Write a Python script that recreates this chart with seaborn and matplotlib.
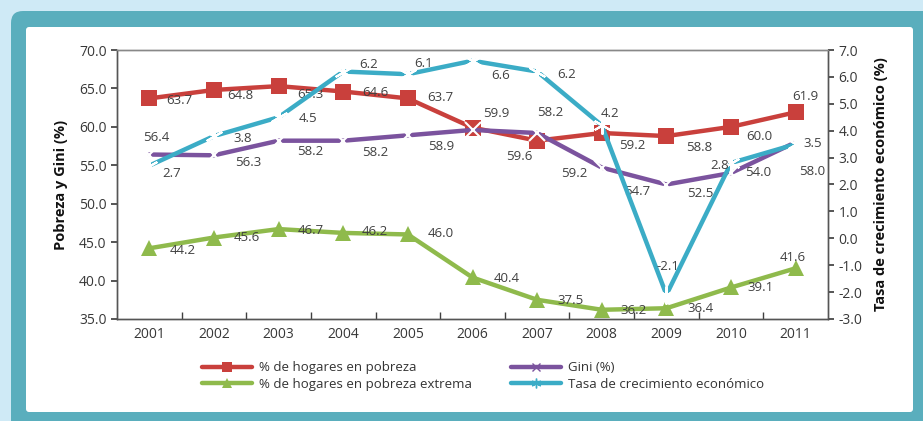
import matplotlib
matplotlib.use("Agg")
import matplotlib.pyplot as plt
from matplotlib.patches import FancyBboxPatch
from matplotlib.transforms import IdentityTransform
from matplotlib.lines import Line2D
import pandas as pd
import seaborn as sns

years = [2001, 2002, 2003, 2004, 2005, 2006, 2007, 2008, 2009, 2010, 2011]
pobreza = [63.7, 64.8, 65.3, 64.6, 63.7, 59.9, 58.2, 59.2, 58.8, 60.0, 61.9]
gini = [56.4, 56.3, 58.2, 58.2, 58.9, 59.6, 59.2, 54.7, 52.5, 54.0, 58.0]
pobreza_extrema = [44.2, 45.6, 46.7, 46.2, 46.0, 40.4, 37.5, 36.2, 36.4, 39.1, 41.6]
crecimiento = [2.7, 3.8, 4.5, 6.2, 6.1, 6.6, 6.2, 4.2, -2.1, 2.8, 3.5]

names = ["% de hogares en pobreza", "Gini (%)",
         "% de hogares en pobreza extrema", "Tasa de crecimiento económico"]

df = pd.DataFrame({"year": years, "pobreza": pobreza, "gini": gini,
                   "extrema": pobreza_extrema, "crec": crecimiento})

RED = "#c9403c"
PURPLE = "#7b539e"
GREEN = "#8fba4c"
CYAN = "#3bacc6"
TEAL = "#5aaebd"

sns.set_theme(style="white")
plt.rcParams["font.family"] = ["Open Sans", "DejaVu Sans"]

fig = plt.figure(figsize=(9.23, 4.21), dpi=100)
fig.patch.set_facecolor("#cfeaf6")
W, H = 923, 421

# frame drawn in pixel coordinates (origin bottom-left)
fig.patches.append(FancyBboxPatch((11, -20), 930, 430,
                                  boxstyle="round,pad=0,rounding_size=12",
                                  transform=IdentityTransform(), facecolor=TEAL,
                                  edgecolor="none", zorder=-10))
fig.patches.append(FancyBboxPatch((26, 9), 887, 385,
                                  boxstyle="round,pad=0,rounding_size=3",
                                  transform=IdentityTransform(), facecolor="white",
                                  edgecolor="none", zorder=-9))

ax = fig.add_axes([117 / W, 1 - 319 / H, 711 / W, 269 / H])
ax.set_facecolor("none")
ax2 = ax.twinx()
ax2.set_facecolor("none")

lw = 3.2
sns.lineplot(data=df, x="year", y="pobreza", ax=ax, color=RED, lw=lw,
             marker="s", markersize=11, markeredgewidth=0)
sns.lineplot(data=df, x="year", y="gini", ax=ax, color=PURPLE, lw=lw,
             marker="x", markersize=11, markeredgewidth=1.5)
sns.lineplot(data=df, x="year", y="extrema", ax=ax, color=GREEN, lw=lw,
             marker="^", markersize=12, markeredgewidth=0)
sns.lineplot(data=df, x="year", y="crec", ax=ax2, color=CYAN, lw=lw,
             marker=(6, 2, 0), markersize=13, markeredgewidth=1.5)

lab_kw = dict(textcoords="offset pixels", ha="center", va="center",
              fontsize=9.5, color="#404040")

# label offsets in pixels (dx, dy with dy positive = down)
off_pob = [(30, 2), (26, 6), (32, 8), (32, 1), (33, -1), (24, -14),
           (13, -28), (31, 12), (33, 11), (28, 10), (10, -16)]
off_gini = [(7, -17), (34, 7), (32, 11), (32, 12), (33, 11), (47, 27),
            (37, 40), (35, 24), (34, 9), (27, 0), (17, 29)]
off_ext = [(33, 2), (33, 0), (32, 1), (32, -1), (33, -1), (34, 1),
           (33, 1), (32, 1), (34, 0), (29, 0), (-3, -11)]
off_crec = [(22, 8), (29, 2), (29, 1), (25, -7), (16, -11), (28, 15),
            (29, 3), (8, -12), (1, -28), (-11, 3), (17, -1)]

for col, offs, a in [("pobreza", off_pob, ax), ("gini", off_gini, ax),
                     ("extrema", off_ext, ax), ("crec", off_crec, ax2)]:
    for x, v, (dx, dy) in zip(df["year"], df[col], offs):
        a.annotate(f"{v:.1f}", (x, v), xytext=(dx, -dy), **lab_kw)

ax.set_xlim(2000.5, 2011.5)
ax.set_ylim(35, 70)
ax2.set_ylim(-3, 7)
ax.set_xticks(years)
ax.set_xticklabels([str(y) for y in years], fontsize=10, color="#383838")
ax.set_xticks([y + 0.5 for y in years[:-1]], minor=True)
ax.tick_params(axis="x", which="major", length=0, pad=6)
ax.tick_params(axis="x", which="minor", direction="in", length=5,
               color="#404040", bottom=True)
ax.set_yticks([35 + 5 * i for i in range(8)])
ax.set_yticklabels([f"{35 + 5 * i:.1f}" for i in range(8)], fontsize=10,
                   color="#383838")
ax.tick_params(axis="y", which="major", direction="out", length=4,
               color="#404040", left=True)
ax2.set_yticks(list(range(-3, 8)))
ax2.set_yticklabels([f"{v:.1f}" for v in range(-3, 8)], fontsize=10,
                    color="#383838")
ax2.tick_params(axis="y", direction="out", length=4, color="#404040",
                right=True)

for a in (ax, ax2):
    for side in ("left", "bottom", "right"):
        a.spines[side].set_color("#555555")
        a.spines[side].set_linewidth(1.0)
    a.spines["top"].set_color("#888888")
    a.spines["top"].set_linewidth(1.0)

ax.set_xlabel("")
ax.set_ylabel("Pobreza y Gini (%)", fontsize=10.5, fontweight="bold",
              color="#111111", labelpad=8)
ax2.set_ylabel("Tasa de crecimiento económico (%)", fontsize=10.5,
               fontweight="bold", color="#111111", labelpad=8)

handles = [
    Line2D([], [], color=RED, lw=lw, marker="s", markersize=7, markeredgewidth=0),
    Line2D([], [], color=GREEN, lw=lw, marker="^", markersize=7, markeredgewidth=0),
    Line2D([], [], color=PURPLE, lw=lw, marker="x", markersize=6),
    Line2D([], [], color=CYAN, lw=lw, marker=(6, 2, 0), markersize=7),
]
labels = [names[0], names[2], names[1], names[3]]
fig.legend(handles, labels, loc="center left", ncol=2,
           bbox_to_anchor=(190 / W, 1 - 376 / H), frameon=False,
           fontsize=9.5, handlelength=3.8, handletextpad=0.5,
           columnspacing=3.0, labelspacing=0.25, labelcolor="#333333")

fig.savefig("out.png", dpi=100, facecolor=fig.get_facecolor())
